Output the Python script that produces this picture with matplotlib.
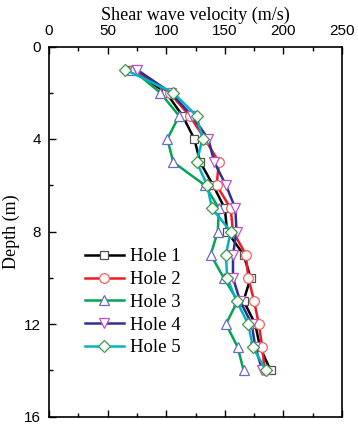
import matplotlib
matplotlib.use("Agg")
import matplotlib.pyplot as plt
from matplotlib.ticker import MultipleLocator

depth = [1, 2, 3, 4, 5, 6, 7, 8, 9, 10, 11, 12, 13, 14]
hole1 = [70, 100, 114, 124, 129, 140, 150, 152, 166, 172, 166, 176, 180, 189]
hole2 = [72, 103, 120, 133, 145, 143, 155, 157, 168, 170, 175, 179, 182, 184]
hole3 = [71, 95, 111, 101, 106, 133, 145, 144, 138, 149, 161, 151, 161, 166]
hole4 = [75, 104, 122, 136, 141, 151, 159, 160, 157, 157, 163, 173, 176, 182]
hole5 = [65, 106, 126, 131, 126, 135, 139, 155, 151, 152, 160, 170, 174, 185]
labels = ["Hole 1", "Hole 2", "Hole 3", "Hole 4", "Hole 5"]

series = [hole1, hole2, hole3, hole4, hole5]
line_colors = ["#000000", "#ee1c24", "#00a651", "#2e3192", "#00b4c8"]
edge_colors = ["#505050", "#f06060", "#6a6ac8", "#c050c8", "#3a9a48"]
markers = ["s", "o", "^", "v", "D"]
msizes = [6, 7, 7.5, 7.5, 6.5]

fig = plt.figure(figsize=(3.58, 4.26), dpi=100)
ax = fig.add_axes([49/358, 1-416.5/426, (342-49)/358, (416.5-46.5)/426])

for vals, lc, ec, m, ms, lab in zip(series, line_colors, edge_colors, markers, msizes, labels):
    ax.plot(vals, depth, color=lc, lw=1.8, marker=m, ms=ms, mfc="white",
            mec=ec, mew=0.9, label=lab)

ax.set_xlim(0, 250)
ax.set_ylim(16, 0)
ax.xaxis.set_major_locator(MultipleLocator(50))
ax.xaxis.set_minor_locator(MultipleLocator(25))
ax.yaxis.set_major_locator(MultipleLocator(4))
ax.yaxis.set_minor_locator(MultipleLocator(2))
ax.xaxis.tick_top()
ax.xaxis.set_label_position("top")
ax.tick_params(which="both", direction="in", top=True, bottom=True, left=True, right=False,
               labelsize=11, width=1)
ax.tick_params(which="major", length=5, pad=6)
ax.tick_params(which="minor", length=3)
for lab in ax.get_xticklabels() + ax.get_yticklabels():
    lab.set_family("Liberation Sans")
for s in ax.spines.values():
    s.set_linewidth(1.2)

ax.set_xlabel("Shear wave velocity (m/s)", family="Liberation Serif", fontsize=13, labelpad=3)
ax.set_ylabel("Depth (m)", family="Liberation Serif", fontsize=13, labelpad=3)

leg = ax.legend(loc="upper left", bbox_to_anchor=(0.09, 0.48), frameon=False,
                prop={"family": "Liberation Serif", "size": 13.5},
                handlelength=2.1, labelspacing=0.3, handletextpad=0.3, borderpad=0)

fig.savefig("out.png", dpi=100)
